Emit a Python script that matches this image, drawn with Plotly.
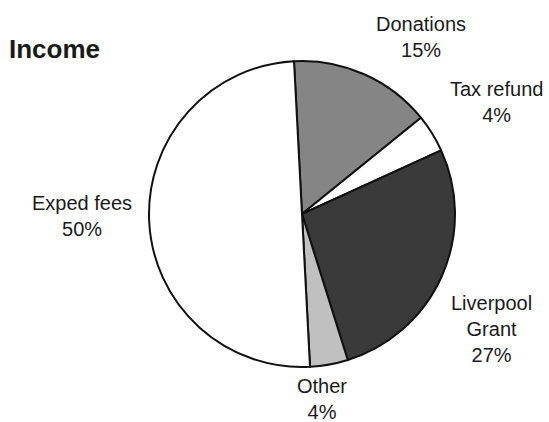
import plotly.graph_objects as go

# Data
categories = ["Donations", "Tax refund", "Liverpool Grant", "Other", "Exped fees"]
display_names = ["Donations", "Tax refund", "Liverpool<br>Grant", "Other", "Exped fees"]
values = [15, 4, 27, 4, 50]

# Styles
colors = ["#858585", "#ffffff", "#3a3a3a", "#c0c0c0", "#ffffff"]
# Label block centres in pixels (layout, not data)
label_xy = {
    "Donations": (421, 37),
    "Tax refund": (496, 102),
    "Liverpool Grant": (491, 329),
    "Other": (322, 399),
    "Exped fees": (82, 216),
}

W, H = 549, 422
cx, cy, r = 302, 214, 153  # pie centre / radius in px (from top-left)
FONT = "Liberation Sans, Arial, sans-serif"

fig = go.Figure(go.Pie(
    labels=categories,
    values=values,
    sort=False,
    direction="clockwise",
    rotation=-3,
    marker=dict(colors=colors, line=dict(color="#111111", width=2)),
    textinfo="none",
    domain=dict(x=[(cx - r) / W, (cx + r) / W], y=[(H - cy - r) / H, (H - cy + r) / H]),
    showlegend=False,
    hoverinfo="label+percent",
))

total = sum(values)
for cat, name, v in zip(categories, display_names, values):
    px, py = label_xy[cat]
    fig.add_annotation(
        x=px / W, y=1 - py / H, xref="paper", yref="paper",
        text=f"{name}<br>{round(100 * v / total)}%",
        showarrow=False, xanchor="center", yanchor="middle", align="center",
        font=dict(family=FONT, size=20, color="#1a1a1a"),
    )

fig.update_layout(
    width=W, height=H,
    margin=dict(l=0, r=0, t=0, b=0),
    paper_bgcolor="white",
    plot_bgcolor="white",
    title=dict(
        text="<b>Income</b>",
        font=dict(family=FONT, size=26, color="#1a1a1a"),
        x=9 / W, xanchor="left", xref="paper",
        y=1 - 49 / H, yanchor="middle", yref="container",
    ),
)

fig.write_html("out.html")
